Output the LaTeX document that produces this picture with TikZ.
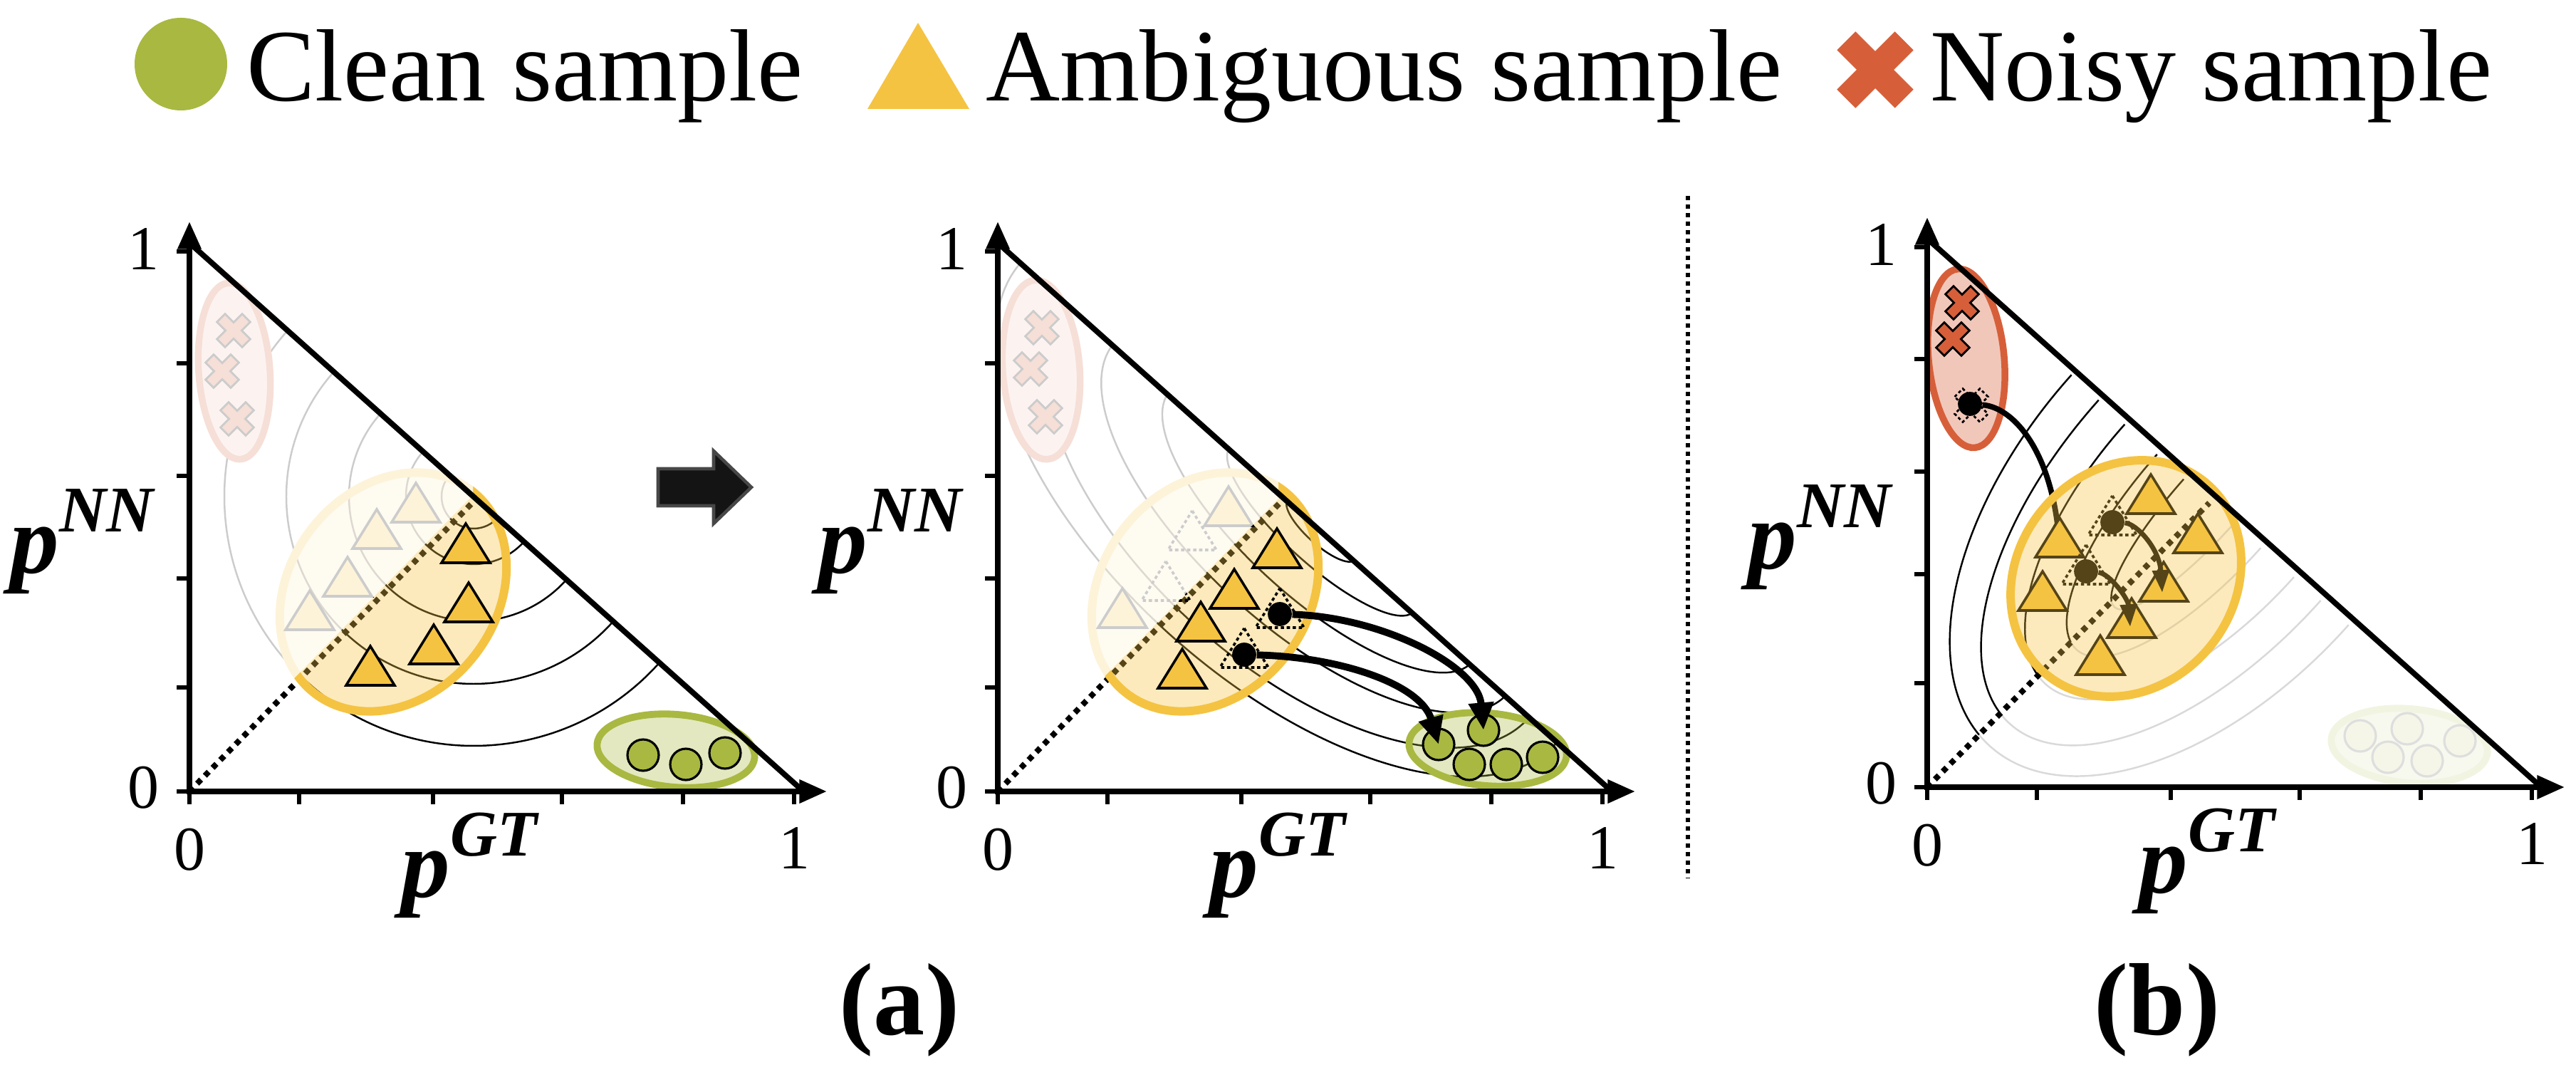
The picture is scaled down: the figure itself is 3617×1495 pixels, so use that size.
\documentclass[tikz,border=0pt]{standalone}
\usepackage{fontspec}
\setmainfont{Liberation Serif}
\usetikzlibrary{arrows.meta}
\definecolor{ylw}{HTML}{F5C342}
\definecolor{grn}{HTML}{A9B841}
\definecolor{rd}{HTML}{D65F3A}
\newcommand\plab[2]{{\bfseries\itshape #1}\raisebox{0.42em}{\fontsize{26}{28}\selectfont\bfseries\itshape #2}}
\newcommand\ytri[3][tri]{\draw[#1] (#2,#3) -- ++(34,55) -- ++(-68,0) -- cycle;}
\newcommand\xcr[3][xmark]{\draw[#1,shift={(#2,#3)},rotate=45] (-8,-25) -- (8,-25) -- (8,-8) -- (25,-8) -- (25,8) -- (8,8) -- (8,25) -- (-8,25) -- (-8,8) -- (-25,8) -- (-25,-8) -- (-8,-8) -- cycle;}
\newcommand\panelaxes[2]{%
\begin{scope}[shift={(#1)}]
\foreach \t in {146,299,443,601,758} \draw[tickline] (0,-\t) -- (-18,-\t);
\foreach \t in {154,342,523,693,849} \draw[tickline] (\t,0) -- (\t,18);
\draw[tickline] (0,0) -- (-18,0);
\draw[tickline] (0,0) -- (0,18);
\draw[axisline,-{Triangle[length=11pt,width=9pt]}] (0,4) -- (0,-800);
\draw[axisline,-{Triangle[length=11pt,width=9pt]}] (-4,0) -- (895,0);
\draw[hypline] (0,-770) -- (860,-2);
\node[lbl] (ya#2) at (-65,-762) {1};
\node[lbl] (yb#2) at (-65,-5) {0};
\node[lbl] (xa#2) at (0,82) {0};
\node[lbl] (xb#2) at (849,79) {1};
\node[plbl] (pnn#2) at (-151,-351) {\plab{p}{NN}};
\node[plbl] (pgt#2) at (393,104) {\plab{p}{GT}};
\end{scope}}
\begin{document}
\begin{tikzpicture}[x=0.01cm,y=-0.01cm,
  axisline/.style={line width=2.3pt},
  hypline/.style={line width=2.2pt,line cap=round},
  tickline/.style={line width=1.6pt},
  contour/.style={line width=0.7pt},
  diag/.style={line width=2.3pt,dash pattern=on 2.2pt off 2.2pt},
  tri/.style={fill=ylw,draw=black,line width=1pt},
  dtri/.style={draw=black,line width=1pt,dash pattern=on 1.3pt off 1.1pt},
  xmark/.style={fill=rd,draw=black,line width=0.8pt},
  dxmark/.style={draw=black,line width=0.8pt,dash pattern=on 1.2pt off 1pt},
  ybig/.style={draw=ylw,line width=3.4pt},
  gbig/.style={draw=grn,line width=2.8pt},
  redell/.style={fill=rd!35,draw=rd,line width=2.7pt},
  dotn/.style={circle,fill=black,inner sep=0pt,minimum size=9.6pt},
  cln/.style={circle,fill=grn,draw=black,line width=0.9pt,inner sep=0pt,minimum size=12.5pt},
  clnf/.style={circle,fill=grn!12,draw=black!13,line width=0.9pt,inner sep=0pt,minimum size=12.5pt},
  lbl/.style={font=\fontsize{25}{28}\selectfont,inner sep=0pt},
  plbl/.style={font=\fontsize{39}{42}\selectfont,inner sep=0pt},
  lgdtext/.style={font=\fontsize{41}{48}\selectfont,inner sep=0pt,anchor=base west},
  caplbl/.style={font=\fontsize{41}{48}\selectfont\bfseries,inner sep=0pt,anchor=base},
  movearrow/.style={line width=2.8pt,-{Triangle[length=11pt,width=9.5pt]}},
  smallarrow/.style={line width=1.9pt,-{Triangle[length=9pt,width=6.5pt]}},
  sepline/.style={line width=1.5pt,dash pattern=on 1.7pt off 1.7pt}]
\useasboundingbox (0,0) rectangle (3617,1495);

% ---------------- legend ----------------
\fill[grn] (254,90) circle[radius=65];
\node[lgdtext] (lgc) at (346,142) {Clean sample};
\fill[ylw] (1289,32) -- (1361,153) -- (1218,153) -- cycle;
\node[lgdtext] (lga) at (1384,142) {Ambiguous sample};
\fill[rd,shift={(2633,98)},rotate=45,scale=2.3] (-8,-25) -- (8,-25) -- (8,-8) -- (25,-8) -- (25,8) -- (8,8) -- (8,25) -- (-8,25) -- (-8,8) -- (-25,8) -- (-25,-8) -- (-8,-8) -- cycle;
\node[lgdtext] (lgn) at (2710,142) {Noisy sample};

% ---------------- panel 1 ----------------
\begin{scope}
\clip (266,1111) -- (266,339) -- (1131,1108) -- cycle;
\foreach \r in {45,95,175,263,350}
  \draw[contour] (665,697) ++(41.6:\r) arc[start angle=41.6,end angle=221.6,radius=\r];
\end{scope}
\draw[diag] (266,1111) -- (668,701);
\fill[ylw,fill opacity=0.35,shift={(552,831)},rotate=52] (0,0) ellipse[x radius=180,y radius=145];
\draw[ybig,shift={(552,831)},rotate=52] (0,0) ellipse[x radius=180,y radius=145];
\draw[redell,shift={(329,521)},rotate=4] (0,0) ellipse[x radius=50,y radius=124];
\xcr{328}{464} \xcr{312}{521} \xcr{333}{588}
\ytri{584}{678} \ytri{529}{715} \ytri{488}{782} \ytri{435}{829}
\ytri{654}{735} \ytri{658}{818} \ytri{609}{877} \ytri{520}{907}
\fill[grn,fill opacity=0.33,shift={(949,1054)},rotate=-5] (0,0) ellipse[x radius=111,y radius=51];
\draw[gbig,shift={(949,1054)},rotate=-5] (0,0) ellipse[x radius=111,y radius=51];
\node[cln] (p1c1) at (903,1060) {};
\node[cln] (p1c2) at (963,1073) {};
\node[cln] (p1c3) at (1018,1057) {};
\fill[white,opacity=0.8] (262,1107) -- (664,695) -- (664,290) -- (240,290) -- (240,1120) -- cycle;
\panelaxes{266,1111}{1}

% block arrow
\filldraw[fill=black!92,draw=black!72,line width=1.3pt] (924,658) -- (1002,658) -- (1002,633) -- (1055,684) -- (1002,735) -- (1002,710) -- (924,710) -- cycle;

% ---------------- panel 2 ----------------
\begin{scope}
\clip (1401,1111) -- (1401,336) -- (2262,1108) -- cycle;
\foreach \cx/\cy/\a/\b in {1855/744/63/20,1856/743/173/50,1855/739/285/103,1841/727/370/157,1822/718/435/215,1810/705/505/250}
  \draw[contour,shift={(\cx,\cy)},rotate=-41.9] (0,0) ellipse[x radius=\a,y radius=\b];
\end{scope}
\draw[diag] (1401,1111) -- (1799,704);
\fill[ylw,fill opacity=0.35,shift={(1692,831)},rotate=52] (0,0) ellipse[x radius=180,y radius=145];
\draw[ybig,shift={(1692,831)},rotate=52] (0,0) ellipse[x radius=180,y radius=145];
\draw[redell,shift={(1462,519)},rotate=4] (0,0) ellipse[x radius=54,y radius=126];
\xcr{1463}{460} \xcr{1447}{518} \xcr{1468}{585}
\ytri{1725}{683} \ytri{1576}{826}
\ytri[dtri]{1674}{717} \ytri[dtri]{1637}{788}
\ytri{1793}{742} \ytri{1733}{799} \ytri{1686}{845} \ytri{1660}{911}
\ytri[dtri]{1797}{826} \ytri[dtri]{1747}{882}
\node[dotn] (p2d1) at (1797,862) {};
\node[dotn] (p2d2) at (1747,919) {};
\fill[grn,fill opacity=0.33,shift={(2089,1052)},rotate=-5] (0,0) ellipse[x radius=111,y radius=51];
\draw[gbig,shift={(2089,1052)},rotate=-5] (0,0) ellipse[x radius=111,y radius=51];
\node[cln] (p2c1) at (2020,1045) {};
\node[cln] (p2c2) at (2083,1025) {};
\node[cln] (p2c3) at (2063,1073) {};
\node[cln] (p2c4) at (2115,1073) {};
\node[cln] (p2c5) at (2166,1063) {};
\draw[movearrow] (p2d1) .. controls (1940,866) and (2075,935) .. (p2c2.center);
\draw[movearrow] (p2d2) .. controls (1880,922) and (1995,960) .. (p2c1.center);
\fill[white,opacity=0.8] (1397,1107) -- (1795,700) -- (1795,290) -- (1375,290) -- (1375,1120) -- cycle;
\panelaxes{1401,1111}{2}

% separator
\draw[sepline] (2370,275) -- (2370,1233);

% ---------------- panel 3 ----------------
\begin{scope}
\clip (2706,1105) -- (3102,706) -- (3558,1105) -- cycle;
\foreach \b/\a in {47/200,98/280,160/345,210/420,262/462}
  \draw[contour,black!15,shift={(3102,703)},rotate=-41.7] (0,0) ellipse[x radius=\b,y radius=\a];
\end{scope}
\begin{scope}
\clip (2706,1105) -- (3102,706) -- (2706,338) -- cycle;
\foreach \b/\a in {47/200,98/280,160/345,210/420,262/462}
  \draw[contour,shift={(3102,703)},rotate=-41.7] (0,0) ellipse[x radius=\b,y radius=\a];
\end{scope}
\fill[grn!9,shift={(3383,1047)},rotate=-5] (0,0) ellipse[x radius=110,y radius=52];
\draw[draw=grn!16,line width=2.8pt,shift={(3383,1047)},rotate=-5] (0,0) ellipse[x radius=110,y radius=52];
\node[clnf] (p3c1) at (3314,1033) {};
\node[clnf] (p3c2) at (3380,1023) {};
\node[clnf] (p3c3) at (3353,1063) {};
\node[clnf] (p3c4) at (3408,1068) {};
\node[clnf] (p3c5) at (3454,1040) {};
\draw[diag] (2706,1105) -- (3102,706);
\draw[redell,shift={(2761,503)},rotate=5.5] (0,0) ellipse[x radius=53,y radius=126];
\xcr{2755}{425} \xcr{2742}{476} \xcr[dxmark]{2768}{569}
\node[dotn] (p3nd) at (2766,567) {};
\coordinate (p3ne) at (2892,770);
\draw[line width=2.2pt] (p3nd) .. controls (2830,572) and (2885,640) .. (p3ne);
\ytri{3020}{666} \ytri{3086}{721} \ytri{2892}{727} \ytri{2868}{802}
\ytri{3038}{789} \ytri{2993}{840} \ytri{2949}{892}
\ytri[dtri]{2966}{696} \ytri[dtri]{2929}{765}
\node[dotn] (p3d4) at (2966,733) {};
\node[dotn] (p3d5) at (2929,802) {};
\coordinate (p3t7) at (3036,832);
\coordinate (p3t8) at (2991,880);
\draw[smallarrow] (p3d4) .. controls (3000,735) and (3032,770) .. (p3t7);
\draw[smallarrow] (p3d5) .. controls (2962,805) and (2988,840) .. (p3t8);
\fill[ylw,fill opacity=0.35,shift={(2985,812)},rotate=50] (0,0) ellipse[x radius=175,y radius=152];
\draw[ybig,shift={(2985,812)},rotate=50] (0,0) ellipse[x radius=175,y radius=152];
\panelaxes{2706,1105}{3}

% captions
\node[caplbl] (capa) at (1263,1452) {(a)};
\node[caplbl] (capb) at (3029,1452) {(b)};
\end{tikzpicture}
\end{document}
